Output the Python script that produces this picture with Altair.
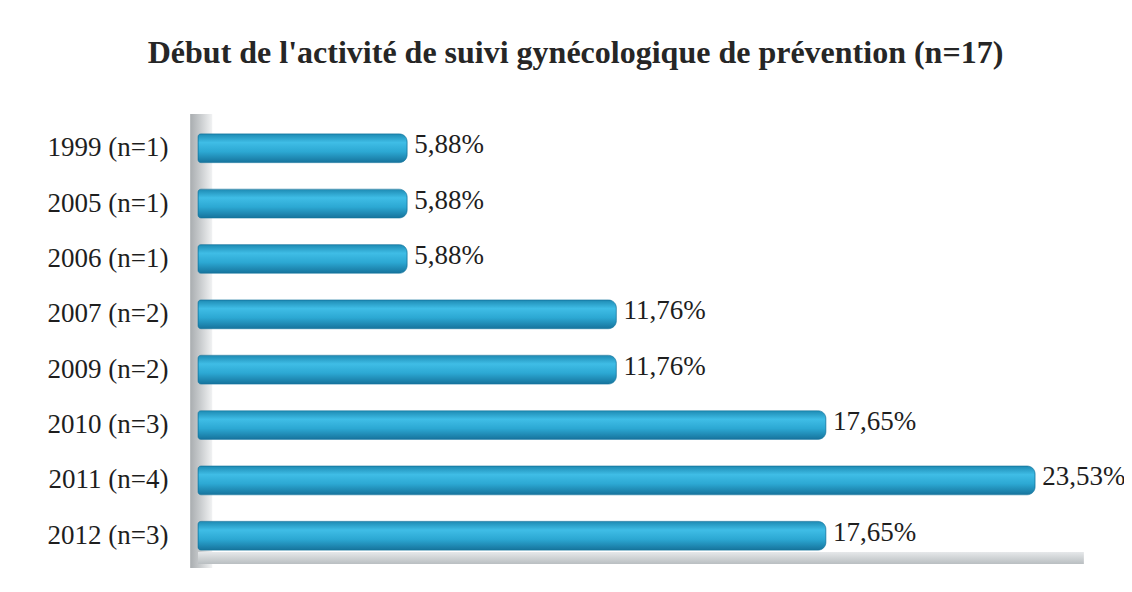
import altair as alt
import pandas as pd

categories = ["1999 (n=1)", "2005 (n=1)", "2006 (n=1)", "2007 (n=2)",
              "2009 (n=2)", "2010 (n=3)", "2011 (n=4)", "2012 (n=3)"]
values = [5.88, 5.88, 5.88, 11.76, 11.76, 17.65, 23.53, 17.65]
labels = ["5,88%", "5,88%", "5,88%", "11,76%", "11,76%", "17,65%", "23,53%", "17,65%"]

df = pd.DataFrame({"cat": categories, "val": values, "lab": labels})

W, H = 925, 444
XMAX = 26
FONT = "Liberation Serif"

xscale = alt.Scale(domain=[0, XMAX], nice=False, zero=True)
x = alt.X("val:Q", scale=xscale, axis=None)
y = alt.Y("cat:N", sort=categories,
          scale=alt.Scale(paddingInner=0.48, paddingOuter=0.25),
          axis=alt.Axis(title=None, domain=False, ticks=False, grid=False, labelFont=FONT,
                        labelFontSize=27, labelColor="#1e1e1e", labelPadding=30))

grad = alt.Gradient(gradient="linear", x1=0, x2=0, y1=0, y2=1, stops=[
    alt.GradientStop(offset=0, color="#1d8ab3"),
    alt.GradientStop(offset=0.3, color="#3fbde6"),
    alt.GradientStop(offset=0.62, color="#2ca8d3"),
    alt.GradientStop(offset=1, color="#16739c"),
])

wall_grad = alt.Gradient(gradient="linear", x1=0, x2=1, y1=0, y2=0, stops=[
    alt.GradientStop(offset=0, color="#a9adb0"),
    alt.GradientStop(offset=0.45, color="#c8cbcd"),
    alt.GradientStop(offset=1, color="#f1f2f3"),
])
floor_grad = alt.Gradient(gradient="linear", x1=0, x2=0, y1=0, y2=1, stops=[
    alt.GradientStop(offset=0, color="#e6e8ea"),
    alt.GradientStop(offset=1, color="#b9bec1"),
])

wall = alt.Chart(pd.DataFrame({"a": [-0.22], "b": [0.4]})).mark_rect(color=wall_grad).encode(
    x=alt.X("a:Q", scale=xscale, axis=None),
    x2="b:Q", y=alt.value(-6), y2=alt.value(H + 4))

floor = alt.Chart(pd.DataFrame({"a": [0], "b": [24.9]})).mark_rect(color=floor_grad).encode(
    x=alt.X("a:Q", scale=xscale, axis=None),
    x2="b:Q", y=alt.value(H - 12), y2=alt.value(H))

base = alt.Chart(df)
bars = base.mark_bar(color=grad, cornerRadiusEnd=8, cornerRadiusTopLeft=3,
                     cornerRadiusBottomLeft=3, stroke="#16759e", strokeWidth=0.6).encode(x=x, y=y)
text = base.mark_text(align="left", baseline="middle", dx=7, dy=-3, font=FONT,
                      fontSize=27, color="#1e1e1e").encode(x=x, y=y, text="lab:N")

chart = alt.layer(wall, floor, bars, text).properties(
    width=W, height=H,
    background="white",
    title=alt.TitleParams("Début de l'activité de suivi gynécologique de prévention (n=17)",
                          font=FONT, fontSize=32, fontWeight="bold", color="#262626",
                          anchor="middle", dx=-85, offset=44),
    autosize=alt.AutoSizeParams(type="none"),
    padding={"left": 190, "top": 112, "right": 1, "bottom": 12},
).configure_view(stroke="transparent").configure_axis(grid=False, domain=False)

chart.save("out.html", embed_options={"renderer": "svg", "actions": False})
